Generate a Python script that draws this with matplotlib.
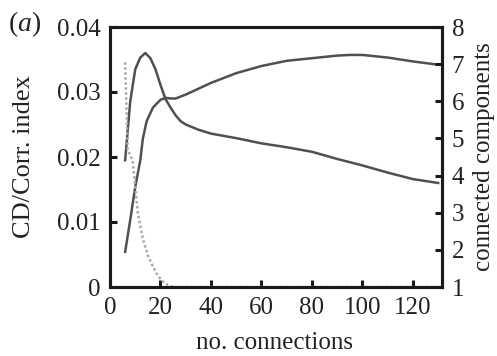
import matplotlib
matplotlib.use("Agg")
import matplotlib.pyplot as plt

# Corr. index-like rising curve (left axis)
x_a = [6, 8, 10, 12, 13, 14.5, 17, 20, 22, 24, 26, 30, 35, 40, 50, 60, 70, 80, 90, 95, 100, 110, 120, 130]
y_a = [0.0054, 0.0103, 0.0154, 0.0195, 0.0228, 0.0255, 0.0276, 0.0288, 0.0291, 0.0290, 0.0290, 0.0296,
       0.0305, 0.0314, 0.0329, 0.0340, 0.0348, 0.0352, 0.0356, 0.0357, 0.0357, 0.0353, 0.0347, 0.0342]

# CD curve with early peak (left axis)
x_b = [6, 8, 10, 12, 14, 16, 18, 20, 22, 24, 26, 28, 30, 35, 40, 50, 60, 70, 80, 90, 100, 110, 120, 130]
y_b = [0.0195, 0.0285, 0.0335, 0.0353, 0.0360, 0.0352, 0.0335, 0.0311, 0.0289, 0.0276, 0.0264, 0.0255,
       0.0250, 0.0242, 0.0236, 0.0229, 0.0221, 0.0215, 0.0208, 0.0197, 0.0187, 0.0176, 0.0166, 0.0160]

# connected components (right axis)
x_c = [6, 7, 9, 11, 13, 15, 17, 19, 21, 23, 25, 30, 130]
y_c = [7.05, 4.7, 4.4, 3.0, 2.3, 1.85, 1.55, 1.3, 1.14, 1.05, 1.0, 1.0, 1.0]

x_ticks = [0, 20, 40, 60, 80, 100, 120]
left_ticks = [0, 0.01, 0.02, 0.03, 0.04]
left_labels = ["0", "0.01", "0.02", "0.03", "0.04"]
right_ticks = [1, 2, 3, 4, 5, 6, 7, 8]

plt.rcParams['font.family'] = ['Liberation Serif', 'DejaVu Serif']
plt.rcParams['mathtext.fontset'] = 'custom'
plt.rcParams['mathtext.it'] = 'Liberation Serif:italic'
plt.rcParams['mathtext.rm'] = 'Liberation Serif'

txt = '#222222'
fig = plt.figure(figsize=(4.97, 3.56), dpi=100)
ax = fig.add_axes([110/497, 69/356, 332/497, 260/356])
ax2 = ax.twinx()

line_col = '#505050'
ax.plot(x_a, y_a, color=line_col, lw=1.8)
ax.plot(x_b, y_b, color=line_col, lw=1.8)
ax2.plot(x_c, y_c, color='#a8a8a8', lw=1.8, linestyle=(0, (1, 1)))

ax.set_xlim(0, 131.5)
ax.set_ylim(0, 0.04)
ax2.set_ylim(1, 8)

ax.set_xticks(x_ticks)
ax.set_yticks(left_ticks)
ax.set_yticklabels(left_labels)
ax2.set_yticks(right_ticks)

for a in (ax, ax2):
    for s in a.spines.values():
        s.set_linewidth(2.2)
        s.set_color('#1a1a1a')
ax.tick_params(axis='both', direction='in', length=5, width=2.2, color='#1a1a1a',
               labelsize=18, labelcolor=txt, pad=7)
ax2.tick_params(axis='y', direction='in', length=5, width=2.2, color='#1a1a1a',
                labelsize=18, labelcolor=txt, pad=7)

ax.set_xlabel('no. connections', fontsize=18, color=txt)
ax.xaxis.set_label_coords(0.494, -0.173)
ax.set_ylabel('CD/Corr. index', fontsize=19, color=txt)
ax.yaxis.set_label_coords(-0.226, 0.5)
ax2.set_ylabel('connected components', fontsize=18, color=txt, rotation=90)
ax2.yaxis.set_label_coords(1.093, 0.5)

fig.text(8/497, 1 - 24/356, r'($\mathit{a}$)', fontsize=20, color=txt, ha='left', va='center')

fig.savefig('out.png', dpi=100)
